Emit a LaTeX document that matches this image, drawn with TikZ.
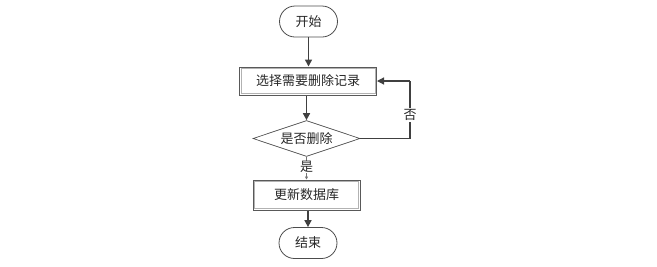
\documentclass[tikz,border=0pt]{standalone}
\usepackage{fontspec}
\newfontfamily\cjk{Noto Sans CJK SC}
\usetikzlibrary{shapes.misc,shapes.geometric,arrows.meta}
\begin{document}
\begin{tikzpicture}[x=1pt,y=-1pt,
  every node/.style={font=\cjk\fontsize{13}{15}\selectfont, text=black!85},
  term/.style={rounded rectangle, draw=black!70, line width=0.8pt, minimum width=58pt, minimum height=31pt, inner sep=0pt},
  proc/.style={rectangle, draw=black!65, line width=1pt, inner sep=0pt},
  inner/.style={draw=black!30, line width=0.6pt},
  dec/.style={diamond, draw=black!70, line width=0.7pt, aspect=3, inner sep=0pt, minimum width=107pt, minimum height=36pt},
  flow/.style={draw=black!75, line width=1.6pt, -{Triangle[length=7pt,width=7pt]}},
  thin/.style={draw=black!55, line width=0.6pt, -{Triangle[length=3pt,width=3pt]}},
  lbl/.style={fill=white, inner sep=1pt}]
\useasboundingbox (0,0) rectangle (657,266);
\node[term] (start) at (308.5,21.5) {开始};
\node[proc, minimum width=137pt, minimum height=28pt] (sel) at (308,81) {选择需要删除记录};
\draw[inner] ([shift={(2.2pt,2.2pt)}]sel.south west) rectangle ([shift={(-2.2pt,-2.2pt)}]sel.north east);
\node[dec] (q) at (306.5,138.5) {是否删除};
\node[proc, minimum width=107pt, minimum height=30pt] (upd) at (306.5,195) {更新数据库};
\draw[inner] ([shift={(2.2pt,2.2pt)}]upd.south west) rectangle ([shift={(-2.2pt,-2.2pt)}]upd.north east);
\node[term] (end) at (308,243) {结束};
\coordinate (c1) at (410,138.5);
\coordinate (c2) at (410,81);
\draw[flow] (start) -- (start |- sel.north);
\draw[flow] (sel.south -| q.north) -- (q.north);
\draw[draw=black!75, line width=1.2pt] (q.east) -- (c1) -- (c2);
\draw[flow, line width=1.2pt] (c2) -- (sel.east);
\node[lbl] at (410,115) {否};
\draw[thin] (q.south) -- node[lbl, pos=0.45, inner sep=0.3pt] {是} (upd.north);
\draw[flow] (upd.south -| end.north) -- (end.north);
\end{tikzpicture}
\end{document}
